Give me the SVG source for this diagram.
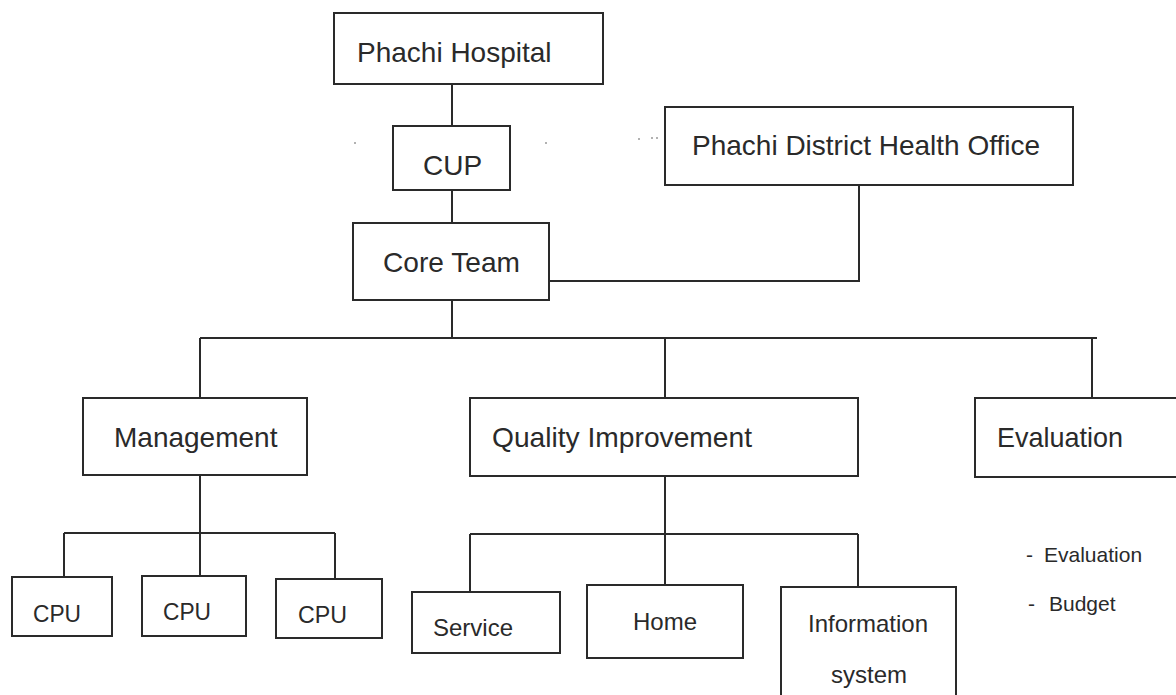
<svg xmlns="http://www.w3.org/2000/svg" width="1176" height="695" viewBox="0 0 1176 695">
<style>
.box{fill:#fff;stroke:#2a2a2a;stroke-width:2}
.ln{fill:none;stroke:#2a2a2a;stroke-width:2}
.t{font-family:"Liberation Sans",Arial,sans-serif;fill:#2a2a2a}
.big{font-size:28px}
.mid{font-size:24px}
.sm{font-size:21px}
.dot{fill:#999}
</style>
<rect width="1176" height="695" fill="#fff"/>
<g id="connectors">
<path class="ln" d="M452 84V126"/>
<path class="ln" d="M452 190V223"/>
<path class="ln" d="M859 185V281H549"/>
<path class="ln" d="M452 300V338"/>
<path class="ln" d="M200 338H1097"/>
<path class="ln" d="M200 338V398"/>
<path class="ln" d="M665 338V398"/>
<path class="ln" d="M1092 338V398"/>
<path class="ln" d="M200 475V533"/>
<path class="ln" d="M64 533H335"/>
<path class="ln" d="M64 533V577"/>
<path class="ln" d="M200 533V576"/>
<path class="ln" d="M335 533V579"/>
<path class="ln" d="M665 475V534"/>
<path class="ln" d="M470 534H858"/>
<path class="ln" d="M470 534V592"/>
<path class="ln" d="M665 534V585"/>
<path class="ln" d="M858 534V587"/>
</g>
<g id="specks">
<circle class="dot" cx="355" cy="143" r="1"/>
<circle class="dot" cx="546" cy="143" r="1"/>
<circle class="dot" cx="639" cy="139" r="1"/>
<circle class="dot" cx="652" cy="138" r="1"/>
<circle class="dot" cx="657" cy="138" r="1"/>
</g>
<g id="phachi-hospital">
<rect class="box" x="334" y="13" width="269" height="71"/>
<text class="t big" x="357" y="62">Phachi Hospital</text>
</g>
<g id="cup">
<rect class="box" x="393" y="126" width="117" height="64"/>
<text class="t big" x="423" y="175">CUP</text>
</g>
<g id="district-health-office">
<rect class="box" x="665" y="107" width="408" height="78"/>
<text class="t big" x="692" y="155">Phachi District Health Office</text>
</g>
<g id="core-team">
<rect class="box" x="353" y="223" width="196" height="77"/>
<text class="t big" x="383" y="272" textLength="137" lengthAdjust="spacingAndGlyphs">Core Team</text>
</g>
<g id="management">
<rect class="box" x="83" y="398" width="224" height="77"/>
<text class="t big" x="114" y="447">Management</text>
</g>
<g id="quality-improvement">
<rect class="box" x="470" y="398" width="388" height="78"/>
<text class="t big" x="492" y="447" textLength="260" lengthAdjust="spacingAndGlyphs">Quality Improvement</text>
</g>
<g id="evaluation">
<rect class="box" x="975" y="398" width="220" height="79"/>
<text class="t big" x="997" y="447" textLength="126" lengthAdjust="spacingAndGlyphs">Evaluation</text>
</g>
<g id="cpu-1">
<rect class="box" x="12" y="577" width="100" height="59"/>
<text class="t mid" x="33" y="622" textLength="48" lengthAdjust="spacingAndGlyphs">CPU</text>
</g>
<g id="cpu-2">
<rect class="box" x="142" y="576" width="104" height="60"/>
<text class="t mid" x="163" y="620" textLength="48" lengthAdjust="spacingAndGlyphs">CPU</text>
</g>
<g id="cpu-3">
<rect class="box" x="276" y="579" width="106" height="59"/>
<text class="t mid" x="298" y="623" textLength="49" lengthAdjust="spacingAndGlyphs">CPU</text>
</g>
<g id="service">
<rect class="box" x="412" y="592" width="148" height="61"/>
<text class="t mid" x="433" y="636">Service</text>
</g>
<g id="home">
<rect class="box" x="587" y="585" width="156" height="73"/>
<text class="t mid" x="633" y="630">Home</text>
</g>
<g id="information-system">
<rect class="box" x="781" y="587" width="175" height="120"/>
<text class="t mid" x="808" y="632">Information</text>
<text class="t mid" x="831" y="683">system</text>
</g>
<g id="evaluation-notes">
<text class="t sm" x="1026" y="562">-</text>
<text class="t sm" x="1044" y="562">Evaluation</text>
<text class="t sm" x="1028" y="611">-</text>
<text class="t sm" x="1049" y="611">Budget</text>
</g>
</svg>
